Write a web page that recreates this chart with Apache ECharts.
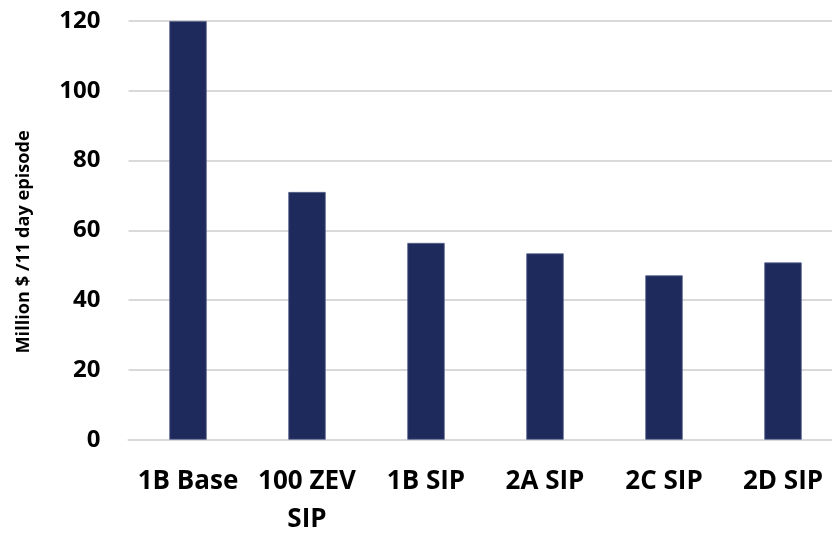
<!DOCTYPE html>
<html>
<head>
<meta charset="utf-8">
<script src="https://cdn.jsdelivr.net/npm/echarts@6/dist/echarts.min.js"></script>
<style>
  html, body { margin: 0; padding: 0; background: #fff; }
  #chart { width: 832px; height: 533px; }
</style>
</head>
<body>
<div id="chart"></div>
<script>
// Scenario cost per 11-day episode
const categories = ['1B Base', '100 ZEV\nSIP', '1B SIP', '2A SIP', '2C SIP', '2D SIP'];
const costs = [120, 71, 56.4, 53.4, 47.1, 50.8];
const yTicks = [0, 20, 40, 60, 80, 100, 120];

const font = '"Open Sans", Lato, sans-serif';
const chart = echarts.init(document.getElementById('chart'), null, { renderer: 'canvas' });

chart.setOption({
  animation: false,
  backgroundColor: '#ffffff',
  grid: {
    left: 128.5, right: -10.5, top: 21, bottom: 93.3,
    containLabel: false, outerBoundsMode: 'none'
  },
  xAxis: {
    type: 'category',
    data: categories,
    axisLine: { show: true, lineStyle: { color: '#d9d9d9', width: 2 } },
    axisTick: { show: false },
    axisLabel: {
      color: '#000', fontFamily: font, fontWeight: 'bold', fontSize: 26,
      margin: 23, lineHeight: 38, interval: 0
    }
  },
  yAxis: {
    type: 'value',
    min: yTicks[0],
    max: yTicks[yTicks.length - 1],
    interval: yTicks[1] - yTicks[0],
    name: 'Million $ /11 day episode',
    nameLocation: 'middle',
    nameRotate: 90,
    nameGap: 96,
    nameTextStyle: {
      color: '#000', fontFamily: font, fontWeight: 'bold', fontSize: 18.2,
      padding: [0, 23, 0, 0]
    },
    axisLine: { show: false },
    axisTick: { show: false },
    axisLabel: { color: '#000', fontFamily: font, fontWeight: 'bold', fontSize: 24, margin: 28 },
    splitLine: { lineStyle: { color: '#d9d9d9', width: 2 } }
  },
  series: [{
    type: 'bar',
    data: costs,
    barWidth: 37.4,
    itemStyle: { color: '#1f2a5c', borderColor: '#56628e', borderWidth: 0.8 }
  }]
});
</script>
</body>
</html>
